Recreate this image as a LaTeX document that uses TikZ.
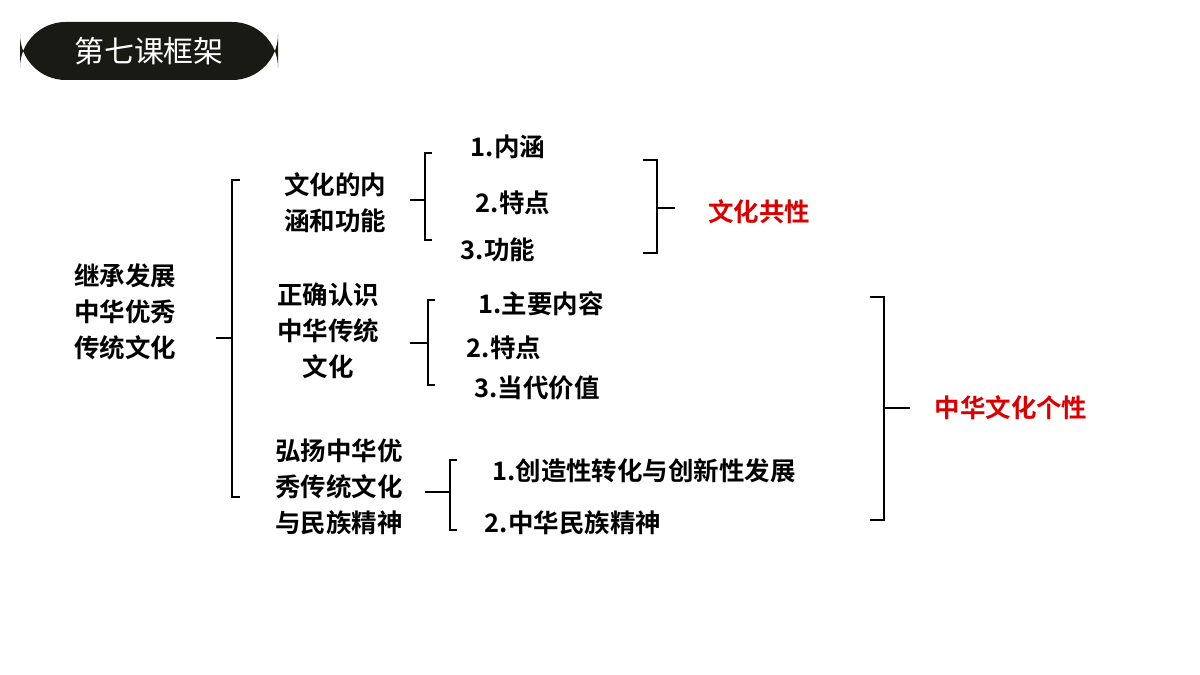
\documentclass[tikz,border=0pt]{standalone}
\usepackage{fontspec}
\setmainfont{Noto Sans CJK SC}[BoldFont={Noto Sans CJK SC Bold}]
\usetikzlibrary{positioning}
\tikzset{
  item/.style={font=\bfseries\fontsize{14.5}{20.5}\selectfont, align=center, inner sep=0pt},
  keyword/.style={item, text=red!85!black},
  brk/.style={line width=1.4pt, black}
}
\begin{document}
\begin{tikzpicture}[x=0.02cm, y=-0.02cm]
  \useasboundingbox (0,0) rectangle (1200,675);

  % Title
  \node[fill={rgb,255:red,26;green,26;blue,20}, rounded corners=26pt, minimum width=258*0.02cm,
        minimum height=58*0.02cm, text=white, font=\fontsize{17}{20}\selectfont] (title) at (149,51) {第七课框架};

  % Root
  \node[item] (root) at (125,312) {继承发展\\中华优秀\\传统文化};
  \draw[brk] (240,180) -- (232,180) -- (232,497) -- (240,497) (232,338) -- (216,338);

  % Part one
  \node[item] (p1) at (335,203) {文化的内\\涵和功能};
  \draw[brk] (432,153) -- (425,153) -- (425,240) -- (432,240) (425,200) -- (410,200);
  \node[item] (p1a) at (508,147) {1.内涵};
  \node[item] (p1b) at (513,203) {2.特点};
  \node[item] (p1c) at (498,250) {3.功能};
  \draw[brk] (643,160) -- (657,160) -- (657,253) -- (643,253) (657,208) -- (675,208);
  \node[keyword] (common) at (759,212) {文化共性};

  % Part two
  \node[item] (p2) at (328,331) {正确认识\\中华传统\\文化};
  \draw[brk] (435,300) -- (428,300) -- (428,385) -- (435,385) (428,343) -- (410,343);
  \node[item] (p2a) at (541,304) {1.主要内容};
  \node[item] (p2b) at (504,348) {2.特点};
  \node[item] (p2c) at (537,388) {3.当代价值};

  % Part three
  \node[item] (p3) at (339,487) {弘扬中华优\\秀传统文化\\与民族精神};
  \draw[brk] (457,460) -- (450,460) -- (450,530) -- (457,530) (450,492) -- (425,492);
  \node[item] (p3a) at (644,471) {1.创造性转化与创新性发展};
  \node[item] (p3b) at (573,523) {2.中华民族精神};

  \draw[brk] (870,297) -- (884,297) -- (884,520) -- (870,520) (884,408) -- (910,408);
  \node[keyword] (unique) at (1011,408) {中华文化个性};
\end{tikzpicture}
\end{document}
